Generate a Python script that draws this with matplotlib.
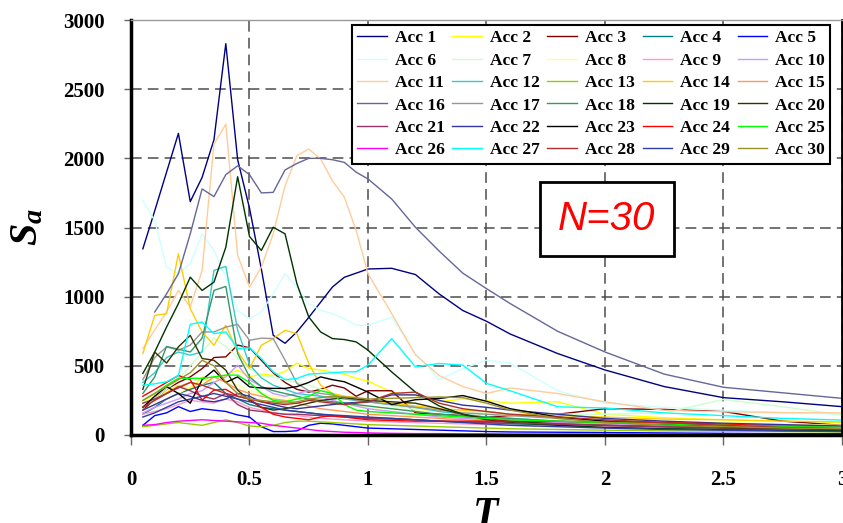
import numpy as np
import matplotlib
matplotlib.use("Agg")
import matplotlib.pyplot as plt

plt.rcParams["mathtext.fontset"] = "custom"
plt.rcParams["mathtext.it"] = "Liberation Serif:bold:italic"
plt.rcParams["mathtext.rm"] = "Liberation Serif:bold"

nan = np.nan

# periods (s)
T = [0.05, 0.1, 0.15, 0.2, 0.25, 0.3, 0.35, 0.4, 0.45, 0.5, 0.55, 0.6, 0.65, 0.7, 0.75, 0.8,
     0.85, 0.9, 0.95, 1.0, 1.1, 1.2, 1.3, 1.4, 1.5, 1.6, 1.8, 2.0, 2.25, 2.5, 2.75, 3.0]

acc1 = [1346, 1620, 1900, 2180, 1687, 1862, 2134, 2829, 1990, 1640, 1200, 721, 663, 745, 850, 960,
        1070, 1140, 1170, 1200, 1205, 1160, 1020, 900, 822, 730, 589, 470, 350, 270, 240, 205]
acc2 = [230, 280, 310, 360, 330, 420, 380, 430, 470, 420, 440, 430, 460, 520, 480, 470,
        455, 440, 410, 390, 310, 285, 240, 260, 250, 230, 240, 150, 125, 110, 100, 90]
acc3 = [180, 260, 330, 380, 420, 480, 560, 565, 650, 630, 540, 450, 380, 330, 310, 330,
        360, 340, 280, 320, 320, 160, 150, 140, 130, 140, 150, 190, 185, 170, 100, 70]
acc4 = [150, 200, 260, 300, 330, 360, 380, 300, 260, 220, 200, 190, 180, 170, 160, 150,
        140, 135, 130, 125, 120, 110, 100, 95, 90, 80, 70, 60, 50, 45, 40, 35]
acc5 = [70, 140, 160, 205, 170, 190, 180, 170, 145, 130, 60, 25, 25, 30, 70, 85,
        80, 70, 60, 50, 45, 40, 35, 30, 25, 22, 20, 18, 15, 12, 10, 10]
acc6 = [1694, 1550, 1213, 1166, 1240, 1454, 1334, 1141, 901, 841, 889, 1021, 1166, 1069, 949, 901,
        877, 841, 793, 793, 850, 590, 400, 480, 541, 520, 320, 230, 200, 180, 160, 150]
acc7 = [200, 260, 330, 400, 500, 600, 700, 640, 560, 480, 430, 420, 400, 380, 360, 330,
        300, 280, 260, 240, 210, 190, 180, 170, 160, 150, 150, 150, 160, 257, 204, 144]
acc8 = [180, 220, 260, 300, 350, 380, 420, 400, 360, 320, 300, 280, 270, 260, 250, 240,
        230, 220, 210, 200, 190, 180, 170, 160, 150, 140, 125, 115, 100, 90, 80, 70]
acc9 = [150, 170, 190, 220, 250, 240, 230, 260, 240, 200, 180, 160, 150, 140, 130, 120,
        115, 110, 105, 100, 95, 90, 85, 80, 75, 70, 65, 60, 55, 50, 45, 40]
acc10 = [160, 200, 230, 260, 300, 320, 380, 420, 505, 400, 350, 300, 280, 300, 320, 280,
         250, 230, 210, 190, 170, 150, 130, 120, 110, 100, 90, 80, 70, 60, 55, 50]
acc11 = [625, 760, 889, 1045, 925, 1190, 2103, 2247, 1298, 1069, 1213, 1454, 1802, 2019, 2067, 1995,
         1838, 1720, 1478, 1166, 877, 580, 430, 350, 300, 340, 300, 240, 178, 168, 162, 160]
acc12 = [380, 450, 560, 600, 577, 600, 1190, 1219, 757, 508, 413, 360, 330, 300, 290, 280,
         270, 260, 250, 240, 220, 200, 170, 150, 130, 120, 100, 90, 80, 70, 60, 55]
acc13 = [60, 70, 80, 90, 80, 70, 90, 110, 90, 65, 60, 70, 90, 100, 100, 95,
         90, 85, 80, 75, 70, 65, 60, 55, 50, 45, 40, 35, 30, 28, 25, 22]
acc14 = [589, 865, 877, 1310, 913, 745, 649, 793, 601, 481, 649, 697, 757, 733, 517, 360,
         300, 280, 270, 250, 230, 210, 190, 180, 170, 150, 140, 130, 115, 110, 100, 95]
acc15 = [204, 250, 300, 350, 380, 360, 420, 380, 330, 300, 280, 260, 250, 230, 210, 190,
         180, 170, 160, 150, 140, 130, 120, 110, 100, 90, 80, 70, 60, 55, 50, 45]
acc16 = [nan, 889, 1020, 1166, 1454, 1779, 1723, 1882, 1946, 1882, 1750, 1754, 1916, 1963, 2000, 2000,
         1990, 1971, 1900, 1851, 1706, 1502, 1330, 1170, 1058, 950, 750, 600, 440, 345, 305, 265]
acc17 = [400, 560, 637, 613, 650, 745, 745, 780, 800, 685, 700, 697, 541, 373, 320, 300,
         290, 270, 250, 240, 220, 200, 180, 160, 150, 140, 120, 100, 90, 80, 70, 60]
acc18 = [300, 420, 640, 620, 600, 700, 1045, 1074, 589, 420, 350, 320, 300, 280, 260, 250,
         240, 230, 220, 210, 190, 170, 150, 140, 130, 120, 100, 90, 80, 70, 60, 55]
acc19 = [445, 600, 780, 950, 1141, 1045, 1105, 1357, 1867, 1435, 1334, 1502, 1454, 1094, 853, 745,
         697, 690, 673, 613, 456, 310, 210, 150, 110, 90, 70, 55, 45, 38, 32, 30]
acc20 = [330, 600, 520, 637, 720, 553, 540, 469, 324, 252, 200, 180, 190, 210, 230, 250,
         260, 270, 260, 250, 240, 230, 190, 150, 120, 100, 80, 70, 60, 50, 45, 40]
acc21 = [230, 260, 300, 350, 320, 280, 260, 300, 220, 180, 170, 160, 150, 150, 145, 140,
         135, 130, 125, 120, 115, 110, 100, 95, 90, 85, 80, 70, 60, 55, 50, 45]
acc22 = [180, 220, 260, 300, 280, 250, 240, 260, 300, 280, 240, 220, 200, 190, 200, 210,
         220, 230, 235, 240, 290, 290, 250, 216, 200, 180, 150, 120, 100, 85, 75, 65]
acc23 = [200, 280, 350, 300, 230, 400, 469, 380, 420, 348, 340, 337, 337, 350, 380, 420,
         400, 385, 348, 310, 220, 255, 264, 285, 244, 190, 130, 100, 80, 60, 50, 45]
acc24 = [280, 330, 380, 430, 400, 252, 324, 330, 280, 260, 200, 150, 130, 120, 110, 130,
         140, 130, 120, 110, 105, 100, 100, 100, 100, 100, 98, 95, 90, 80, 60, 50]
acc25 = [250, 300, 360, 410, 410, 410, 420, 433, 433, 380, 300, 250, 240, 260, 280, 320,
         300, 220, 180, 170, 160, 150, 140, 130, 120, 110, 100, 90, 80, 70, 60, 55]
acc26 = [70, 75, 90, 100, 105, 110, 105, 100, 95, 90, 85, 70, 60, 50, 40, 30,
         25, 20, 18, 15, 12, 10, 10, 8, 8, 6, 5, 5, 4, 4, 3, 3]
acc27 = [360, 370, 385, 430, 800, 817, 733, 745, 625, 630, 553, 456, 400, 409, 440, 445,
         450, 456, 457, 505, 697, 493, 517, 505, 373, 320, 204, 195, 160, 140, 120, 108]
acc28 = [200, 250, 300, 340, 380, 360, 330, 300, 280, 260, 240, 230, 220, 230, 250, 240,
         230, 220, 230, 240, 300, 310, 230, 190, 170, 150, 130, 110, 90, 70, 55, 45]
acc29 = [130, 160, 200, 240, 260, 280, 300, 280, 260, 240, 220, 200, 180, 170, 160, 150,
         145, 140, 135, 130, 120, 110, 100, 90, 80, 70, 60, 50, 40, 35, 30, 25]
acc30 = [250, 300, 350, 400, 450, 540, 500, 380, 300, 260, 250, 240, 230, 240, 260, 270,
         280, 275, 270, 260, 265, 270, 275, 270, 230, 180, 120, 90, 70, 60, 50, 45]

series = [acc1, acc2, acc3, acc4, acc5, acc6, acc7, acc8, acc9, acc10,
          acc11, acc12, acc13, acc14, acc15, acc16, acc17, acc18, acc19, acc20,
          acc21, acc22, acc23, acc24, acc25, acc26, acc27, acc28, acc29, acc30]
labels = ["Acc %d" % (i + 1) for i in range(30)]
colors = ["#000080", "#FFFF00", "#800000", "#008080", "#0000FF",
          "#CCFFFF", "#CCFFCC", "#FFFF99", "#FF99CC", "#CC99FF",
          "#FFCC99", "#33CCCC", "#99CC00", "#FFCC00", "#FF9955",
          "#666699", "#969696", "#339966", "#003300", "#333300",
          "#993366", "#333399", "#000000", "#FF0000", "#00FF00",
          "#FF00FF", "#00FFFF", "#B03030", "#3040A0", "#9C9028"]

fig = plt.figure(figsize=(8.43, 5.23), dpi=100)
ax = fig.add_axes([131 / 843, 1 - 435 / 523, 711 / 843, 415 / 523])

lines = []
for y, lab, c in zip(series, labels, colors):
    ln, = ax.plot(T, y, color=c, lw=1.0, label=lab)
    lines.append(ln)

ax.set_xlim(0, 3)
ax.set_ylim(0, 3000)
ax.set_xticks([0, 0.5, 1, 1.5, 2, 2.5, 3])
ax.set_xticklabels(["0", "0.5", "1", "1.5", "2", "2.5", "3"])
ax.set_yticks([0, 500, 1000, 1500, 2000, 2500, 3000])
ax.grid(True, color="0.3", linestyle=(0, (7, 4)), linewidth=1.1)

for lbl in ax.get_xticklabels() + ax.get_yticklabels():
    lbl.set_family("Liberation Serif")
    lbl.set_fontweight("bold")
    lbl.set_fontsize(15)
ax.tick_params(axis="x", direction="out", length=7, width=1, color="0.4", pad=18)
ax.tick_params(axis="y", direction="out", length=5, width=1, color="0.4", pad=14)

ax.spines["left"].set_linewidth(2.5)
ax.spines["bottom"].set_linewidth(2.5)
ax.spines["right"].set_linewidth(2)
ax.spines["top"].set_color("0.6")
ax.spines["top"].set_linewidth(1)

ax.set_xlabel(r"$T$", fontsize=30, labelpad=2)
ax.set_ylabel(r"$S_a$", fontsize=29, labelpad=12)

ax.text(2.008, 1561, "N=30", color="red", fontsize=29, fontstyle="italic",
        family="Liberation Sans", ha="center", va="center",
        bbox=dict(boxstyle="square,pad=0.45", fc="white", ec="black", lw=2))

# legend filled row by row, as in the original
order = [r * 5 + c for c in range(5) for r in range(6)]
leg = ax.legend([lines[i] for i in order], [labels[i] for i in order],
                ncol=5, loc="upper right", bbox_to_anchor=(0.983, 0.988),
                prop={"family": "Liberation Serif", "weight": "bold", "size": 12.5},
                frameon=True, fancybox=False, edgecolor="black", framealpha=1,
                handlelength=1.7, handletextpad=0.45, columnspacing=0.45,
                labelspacing=0.36, borderpad=0.3, borderaxespad=0)
leg.get_frame().set_linewidth(1.5)

fig.savefig("out.png", dpi=100)
